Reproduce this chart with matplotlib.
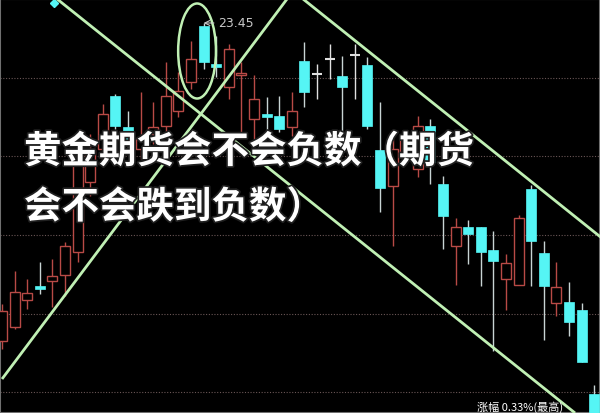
import matplotlib
matplotlib.use("Agg")
import matplotlib.pyplot as plt
import matplotlib.patheffects as pe
from matplotlib.patches import Rectangle, Ellipse
import numpy as np

plt.rcParams['font.family'] = ['Noto Sans CJK SC', 'DejaVu Sans']

# daily candles (price)
opens = [17.09, 17.37, 17.91, 18.17, 18.29, 18.41, 18.87, 20.27, 20.93, 21.99,
         21.37, 20.93, 21.23, 21.39, 21.69, 22.27, 23.39, 22.63, 22.17, 22.41,
         21.53, 21.61, 21.59, 21.37, 22.69, 22.43, 22.73, 22.39, 22.81, 22.61,
         20.91, 20.19, 20.83, 20.53, 21.39, 20.23, 18.99, 19.37, 19.37, 18.91,
         18.33, 18.21, 20.13, 18.85, 17.85, 17.87, 17.71, 16.03]
highs = [17.83, 18.49, 18.33, 18.67, 18.73, 19.07, 20.93, 21.23, 21.83, 22.03,
         21.69, 22.07, 21.87, 22.67, 22.47, 23.09, 23.45, 23.19, 23.03, 22.67,
         22.41, 21.97, 21.99, 22.07, 23.07, 22.63, 23.03, 22.79, 23.03, 22.77,
         21.87, 21.13, 21.29, 21.59, 21.53, 20.39, 19.55, 19.51, 19.37, 19.29,
         18.83, 19.61, 20.21, 19.09, 18.67, 18.27, 17.85, 16.21]
lows = [16.93, 17.33, 17.73, 18.03, 17.77, 17.99, 18.67, 19.99, 20.73, 21.33,
        20.93, 20.73, 21.03, 21.23, 21.57, 22.13, 22.53, 22.37, 21.93, 21.23,
        21.13, 21.29, 21.27, 21.19, 21.77, 21.93, 22.33, 21.27, 21.93, 21.33,
        19.67, 18.99, 20.63, 20.37, 20.23, 18.93, 18.21, 18.63, 18.19, 16.89,
        17.71, 18.21, 18.19, 17.11, 17.59, 17.19, 16.67, 15.53]
closes = [17.69, 18.07, 18.05, 18.13, 18.39, 18.99, 20.73, 20.91, 21.63, 21.39,
          21.13, 21.13, 21.37, 21.99, 22.09, 22.73, 22.67, 22.57, 22.93, 22.45,
          21.93, 21.57, 21.33, 21.69, 22.07, 22.43, 22.73, 22.17, 22.81, 21.39,
          20.15, 20.93, 21.13, 21.39, 20.67, 19.59, 19.37, 19.23, 18.87, 18.69,
          18.65, 19.55, 19.09, 18.19, 18.17, 17.47, 16.67, 15.53]

# hand drawn trend lines (candle index, price)
line_a = ([4.37, 45.48], [23.93, 15.65])
line_b = ([0.0, 22.62], [16.33, 23.93])
line_c = ([23.89, 47.7], [23.93, 19.13])
grid_levels = [22.35, 20.79, 19.21, 17.63, 16.07]
peak_label = "23.45"

UP = '#b84a46'
DOWN = '#55f5f5'
DOWN_WICK = '#c8d4d4'
LINE = '#c0f0b4'

fig = plt.figure(figsize=(6, 4.14), dpi=100, facecolor='black')
ax = fig.add_axes([0, 0, 1, 1])
ax.set_facecolor('black')
ax.set_xlim(-0.16, 47.46)
ax.set_ylim(15.65, 23.93)
ax.set_xticks([])
ax.set_yticks([])
for s in ax.spines.values():
    s.set_color('#707070')
    s.set_linewidth(1.5)

for g in grid_levels:
    ax.axhline(g, color='#6a5656', lw=0.8, ls=(0, (1, 1.5)), zorder=1)

w = 0.8
for i in range(len(opens)):
    o, h, l, c = opens[i], highs[i], lows[i], closes[i]
    top, bot = max(o, c), min(o, c)
    if c > o:
        ax.vlines(i, top, h, color=UP, lw=1.0, zorder=2)
        ax.vlines(i, l, bot, color=UP, lw=1.0, zorder=2)
        ax.add_patch(Rectangle((i - w / 2, bot), w, top - bot, facecolor='black',
                               edgecolor=UP, lw=1.0, zorder=3))
    elif c < o:
        ax.vlines(i, l, h, color=DOWN_WICK, lw=1.0, zorder=2)
        ax.add_patch(Rectangle((i - w / 2, bot), w, max(top - bot, 0.05),
                               facecolor=DOWN, edgecolor=DOWN, lw=0.5, zorder=3))
    else:
        ax.vlines(i, l, h, color='#e0e0e0', lw=1.0, zorder=2)
        ax.hlines(o, i - w / 2, i + w / 2, color='#e0e0e0', lw=1.5, zorder=3)

for xs, ys in (line_a, line_b, line_c):
    ax.plot(xs, ys, color=LINE, lw=2, zorder=4, solid_capstyle='butt')

pk = int(np.argmax(highs))
ax.add_patch(Ellipse((15.48, 22.89), 3.0, 1.9, fill=False, edgecolor=LINE,
                     lw=1.8, zorder=4))
ax.annotate(peak_label, xy=(pk, highs[pk]), xytext=(pk + 1.15, highs[pk]),
            color='#c8c8c8', fontsize=9, family='DejaVu Sans', va='center',
            ha='left', zorder=5,
            arrowprops=dict(arrowstyle='->', color='#c8c8c8', lw=0.8,
                            shrinkA=1, shrinkB=0))
ax.plot([4.1], [23.85], marker='D', color=DOWN, ms=4, zorder=5)

ax.text(37.7, 15.67, "涨幅 0.33%(最高)", color='white', fontsize=8,
        va='bottom', ha='left', zorder=5)

stroke = [pe.withStroke(linewidth=2.5, foreground='#202020')]
fig.text(0.04, 0.632, "黄金期货会不会负数（期货", color='white', fontsize=27,
         fontweight='bold', va='center', ha='left', path_effects=stroke)
fig.text(0.04, 0.498, "会不会跌到负数）", color='white', fontsize=27,
         fontweight='bold', va='center', ha='left', path_effects=stroke)

fig.savefig('out.png', dpi=100, facecolor='black')
